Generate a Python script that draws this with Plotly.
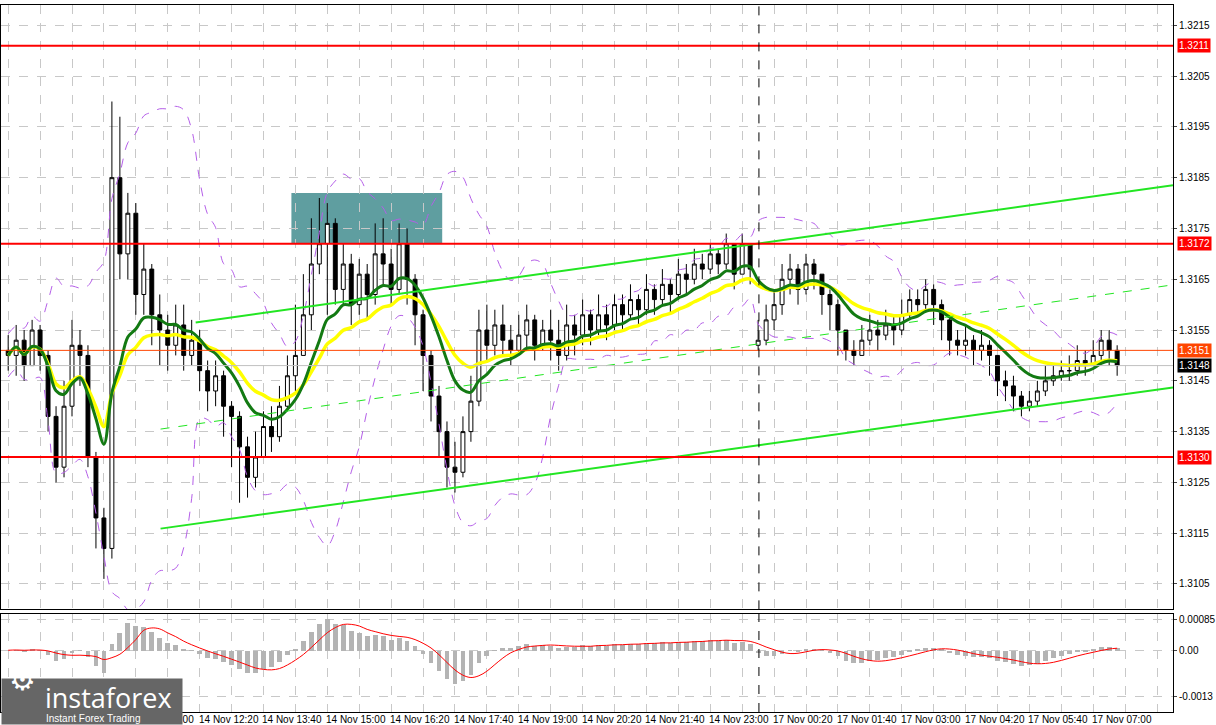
import pandas as pd
import plotly.graph_objects as go
from plotly.subplots import make_subplots

# 10-minute candles, 14 Nov 08:20 -> 17 Nov 07:20 (weekend gap after index 93)
closes = [
    1.3150, 1.3153, 1.3148, 1.3155, 1.3150,
    1.3138, 1.3128,
    1.3140, 1.3152, 1.3150,
    1.3130, 1.3118, 1.3112,
    1.3185, 1.3170,
    1.3178, 1.3162, 1.3167, 1.3158,
    1.3155, 1.3152, 1.3156, 1.3150, 1.3153,
    1.3147, 1.3143, 1.3146, 1.3140, 1.3138, 1.3132,
    1.3126, 1.3130, 1.3136, 1.3134, 1.3140,
    1.3146, 1.3150, 1.3158, 1.3168, 1.3172,
    1.3176, 1.3163, 1.3168, 1.3160, 1.3166, 1.3162, 1.3170, 1.3168, 1.3163,
    1.3172, 1.3165, 1.3158, 1.3150, 1.3142,
    1.3135, 1.3128, 1.3127, 1.3135, 1.3141,
    1.3155, 1.3152, 1.3156, 1.3153, 1.3151, 1.3154, 1.3157, 1.3152, 1.3155, 1.3153,
    1.3150, 1.3156, 1.3154, 1.3158, 1.3155,
    1.3158, 1.3156, 1.3160, 1.3158, 1.3161, 1.3159, 1.3163, 1.3161, 1.3164, 1.3162,
    1.3166, 1.3165,
    1.3168, 1.3167, 1.3170, 1.3168, 1.3172, 1.3166, 1.3172, 1.3167,
    1.3153, 1.3157, 1.3160, 1.3165,
    1.3167, 1.3163, 1.3168, 1.3166, 1.3162,
    1.3160, 1.3155, 1.3151, 1.3150,
    1.3153, 1.3155, 1.3154, 1.3156, 1.3155,
    1.3158, 1.3161, 1.3160, 1.3163, 1.3160,
    1.3157, 1.3153, 1.3152, 1.3153, 1.3151, 1.3152, 1.3150,
    1.3145, 1.3144, 1.3142, 1.3140, 1.3141,
    1.3143, 1.3145, 1.3146, 1.3147, 1.3147,
    1.3149, 1.3148, 1.3150, 1.3153, 1.3151, 1.3148,
]
highs = [
    1.3154, 1.3156, 1.3155, 1.3157, 1.3156,
    1.3151, 1.3140,
    1.3145, 1.3157, 1.3155,
    1.3152, 1.3131, 1.3120,
    1.3200, 1.3197,
    1.3182, 1.3180, 1.3172, 1.3168,
    1.3162, 1.3158, 1.3160, 1.3160, 1.3157,
    1.3155, 1.3149, 1.3149, 1.3147, 1.3141, 1.3139,
    1.3134, 1.3135, 1.3139, 1.3140, 1.3144,
    1.3150, 1.3160, 1.3166, 1.3177, 1.3181,
    1.3180, 1.3177, 1.3172, 1.3170, 1.3169, 1.3168, 1.3176, 1.3177, 1.3171,
    1.3176, 1.3175, 1.3166, 1.3159, 1.3151,
    1.3144, 1.3137, 1.3133, 1.3138, 1.3146,
    1.3159, 1.3160, 1.3159, 1.3160, 1.3156, 1.3158, 1.3160, 1.3158, 1.3157, 1.3159,
    1.3157, 1.3160, 1.3158, 1.3161, 1.3159,
    1.3162, 1.3160, 1.3162, 1.3162, 1.3164, 1.3162, 1.3166, 1.3164, 1.3167, 1.3165,
    1.3169, 1.3168,
    1.3171, 1.3170, 1.3172, 1.3171, 1.3174, 1.3171, 1.3174, 1.3172,
    1.3157, 1.3160, 1.3163, 1.3168,
    1.3170, 1.3168, 1.3170, 1.3169, 1.3166,
    1.3163, 1.3161, 1.3155, 1.3153,
    1.3156, 1.3158, 1.3157, 1.3159, 1.3158,
    1.3161, 1.3163, 1.3163, 1.3165, 1.3164,
    1.3161, 1.3158, 1.3155, 1.3156, 1.3154, 1.3155, 1.3153,
    1.3150, 1.3147, 1.3146, 1.3143, 1.3143,
    1.3145, 1.3148, 1.3148, 1.3149, 1.3150,
    1.3152, 1.3151, 1.3153, 1.3155, 1.3155, 1.3152,
]
lows = [
    1.3147, 1.3146, 1.3145, 1.3148, 1.3147,
    1.3135, 1.3125,
    1.3126, 1.3138, 1.3144,
    1.3128, 1.3112, 1.3106,
    1.3110, 1.3165,
    1.3165, 1.3158, 1.3158, 1.3152,
    1.3148, 1.3147, 1.3150, 1.3147, 1.3148,
    1.3143, 1.3139, 1.3140, 1.3134, 1.3128, 1.3121,
    1.3122, 1.3124, 1.3130, 1.3131, 1.3133,
    1.3139, 1.3143, 1.3150, 1.3155, 1.3166,
    1.3158, 1.3160, 1.3160, 1.3156, 1.3158, 1.3157, 1.3160, 1.3164, 1.3160,
    1.3162, 1.3160, 1.3152, 1.3143, 1.3137,
    1.3130, 1.3124, 1.3123, 1.3126, 1.3133,
    1.3140, 1.3149, 1.3150, 1.3150, 1.3148, 1.3150, 1.3151, 1.3149, 1.3151, 1.3149,
    1.3147, 1.3149, 1.3150, 1.3152, 1.3152,
    1.3154, 1.3153, 1.3155, 1.3155, 1.3157, 1.3156, 1.3158, 1.3158, 1.3160, 1.3158,
    1.3161, 1.3162,
    1.3164, 1.3165, 1.3166, 1.3166, 1.3167, 1.3163, 1.3166, 1.3164,
    1.3151, 1.3152, 1.3155, 1.3158,
    1.3162, 1.3160, 1.3162, 1.3163, 1.3158,
    1.3155, 1.3150, 1.3149, 1.3148,
    1.3150, 1.3152, 1.3151, 1.3153, 1.3152,
    1.3154, 1.3157, 1.3158, 1.3159, 1.3156,
    1.3153, 1.3150, 1.3150, 1.3150, 1.3148, 1.3149, 1.3146,
    1.3142, 1.3141, 1.3139, 1.3138, 1.3139,
    1.3140, 1.3142, 1.3144, 1.3145, 1.3145,
    1.3146, 1.3146, 1.3148, 1.3149, 1.3148, 1.3146,
]
first_open = 1.3151
monday_index = 94
monday_open = 1.3152

tick_index = list(range(16, 137, 8))
tick_labels = [
    "14 Nov 11:00", "14 Nov 12:20", "14 Nov 13:40", "14 Nov 15:00", "14 Nov 16:20",
    "14 Nov 17:40", "14 Nov 19:00", "14 Nov 20:20", "14 Nov 21:40", "14 Nov 23:00",
    "17 Nov 00:20", "17 Nov 01:40", "17 Nov 03:00", "17 Nov 04:20", "17 Nov 05:40",
    "17 Nov 07:00",
]

red_levels = [1.3211, 1.3172, 1.3130]
bid_level = 1.3151
last_level = 1.3148
zone_x = [35.5, 54.4]
zone_y = [1.3172, 1.3182]
upper_channel = [(23.5, 1.31565), (146, 1.31835)]
lower_channel = [(19.1, 1.31159), (146, 1.31437)]
mid_channel = [(19.1, 1.31355), (146, 1.31639)]
session_break = 94.1

df = pd.DataFrame({"close": closes, "high": highs, "low": lows})
df["open"] = df["close"].shift(1)
df.loc[0, "open"] = first_open
df.loc[monday_index, "open"] = monday_open
df["high"] = df[["high", "open", "close"]].max(axis=1)
df["low"] = df[["low", "open", "close"]].min(axis=1)
x = list(range(len(df)))

ma_fast = df["close"].ewm(span=10).mean()
ma_slow = df["close"].ewm(span=18).mean()
bb_mid = df["close"].rolling(12, min_periods=1).mean()
bb_std = df["close"].rolling(12, min_periods=2).std().bfill()
ema_a = df["close"].ewm(span=6).mean()
ema_b = df["close"].ewm(span=13).mean()
macd = ema_a - ema_b
signal = macd.rolling(5, min_periods=1).mean()

fig = make_subplots(rows=2, cols=1, shared_xaxes=True, vertical_spacing=0.006,
                    row_heights=[0.86, 0.14])

for band in (bb_mid + 2 * bb_std, bb_mid - 2 * bb_std):
    fig.add_trace(go.Scatter(x=x, y=band, mode="lines",
                             line=dict(color="#b45ee8", width=1, dash="dash", shape="spline")), 1, 1)
fig.add_trace(go.Scatter(x=x, y=ma_slow, mode="lines",
                         line=dict(color="#ffff00", width=3.5, shape="spline")), 1, 1)
fig.add_trace(go.Scatter(x=x, y=ma_fast, mode="lines",
                         line=dict(color="#137a13", width=3, shape="spline")), 1, 1)

for (x0, y0), (x1, y1), dash, w in [(*upper_channel, "solid", 2),
                                    (*lower_channel, "solid", 2),
                                    (*mid_channel, "dash", 1)]:
    fig.add_trace(go.Scatter(x=[x0, x1], y=[y0, y1], mode="lines",
                             line=dict(color="#22e622", width=w, dash=dash)), 1, 1)

fig.add_trace(go.Candlestick(
    x=x, open=df["open"], high=df["high"], low=df["low"], close=df["close"],
    increasing=dict(fillcolor="white", line=dict(color="black", width=1)),
    decreasing=dict(fillcolor="black", line=dict(color="black", width=1)),
    whiskerwidth=0), 1, 1)

fig.add_trace(go.Bar(x=x, y=macd, marker_color="#b4b4b4", marker_line_width=0,
                     width=0.6), 2, 1)
fig.add_trace(go.Scatter(x=x, y=signal, mode="lines",
                         line=dict(color="red", width=1, shape="spline")), 2, 1)

fig.add_shape(type="rect", x0=zone_x[0], x1=zone_x[1], y0=zone_y[0], y1=zone_y[1],
              fillcolor="#5f9ea0", line_width=0, layer="below", row=1, col=1)
for lvl in red_levels:
    fig.add_hline(y=lvl, line=dict(color="#ff0000", width=2), row=1, col=1)
fig.add_hline(y=bid_level, line=dict(color="#ff4500", width=1), row=1, col=1)
fig.add_hline(y=last_level, line=dict(color="#c0c0c0", width=1), row=1, col=1)
fig.add_vline(x=session_break, line=dict(color="black", width=1, dash="dash"))

tag_font = dict(family="Liberation Sans", size=10, color="white")
for lvl, col in [(1.3211, "#ff0000"), (1.3172, "#ff0000"), (1.3130, "#ff0000"),
                 (bid_level, "#ff4500"), (last_level, "black")]:
    fig.add_annotation(x=1.0, xref="paper", y=lvl, yref="y", xanchor="left",
                       text=f"{lvl:.4f}", showarrow=False, bgcolor=col,
                       font=tag_font, borderpad=1, xshift=4)

for i, lab in zip(tick_index, tick_labels):
    fig.add_annotation(x=i, xref="x2", y=0, yref="paper", yanchor="top", xanchor="left",
                       text=lab, showarrow=False, yshift=0, xshift=-3,
                       font=dict(family="Liberation Sans", size=10, color="black"))

# logo block (annotations so it sits above the time labels)
fig.add_annotation(x=0, xref="paper", y=-0.0184, yref="paper", xanchor="left",
                   yanchor="bottom", text=" ", showarrow=False, width=180, height=45,
                   bgcolor="#666666", borderpad=0)
fig.add_annotation(x=0.036, xref="paper", y=0.05, yref="paper", xanchor="left",
                   yanchor="top", text="instaforex", showarrow=False,
                   font=dict(family="Open Sans", size=27, color="white"))
fig.add_annotation(x=0.037, xref="paper", y=0.002, yref="paper", xanchor="left",
                   yanchor="top", text="Instant Forex Trading", showarrow=False,
                   font=dict(family="Liberation Sans", size=10, color="white"))
fig.add_annotation(x=0.0, xref="paper", y=0.016, yref="paper", xanchor="left",
                   text="⚙", showarrow=False, xshift=6,
                   font=dict(size=30, color="white"))

axis_common = dict(showline=True, linecolor="black", mirror=True, zeroline=False,
                   gridcolor="#c8c8c8", griddash="dash",
                   tickfont=dict(family="Liberation Sans", size=10, color="black"))
fig.update_xaxes(range=[-0.9, 146], dtick=4, tick0=0, showticklabels=False,
                 rangeslider_visible=False, **axis_common)
fig.update_yaxes(side="right", ticks="outside", ticklen=3, **axis_common)
fig.update_yaxes(range=[1.3100, 1.3219], dtick=0.001, tick0=1.3105,
                 tickformat=".4f", row=1, col=1)
fig.update_yaxes(range=[-0.00172, 0.00102], tickvals=[0.00085, 0, -0.0013],
                 ticktext=["0.00085", "0.00", "-0.0013"], row=2, col=1)

fig.update_layout(
    width=1216, height=725, showlegend=False,
    margin=dict(l=0, r=41, t=5, b=13),
    plot_bgcolor="white", paper_bgcolor="white",
    bargap=0,
)
fig.write_html("out.html", config={"displayModeBar": False},
               post_script="document.body.style.margin='0';")
